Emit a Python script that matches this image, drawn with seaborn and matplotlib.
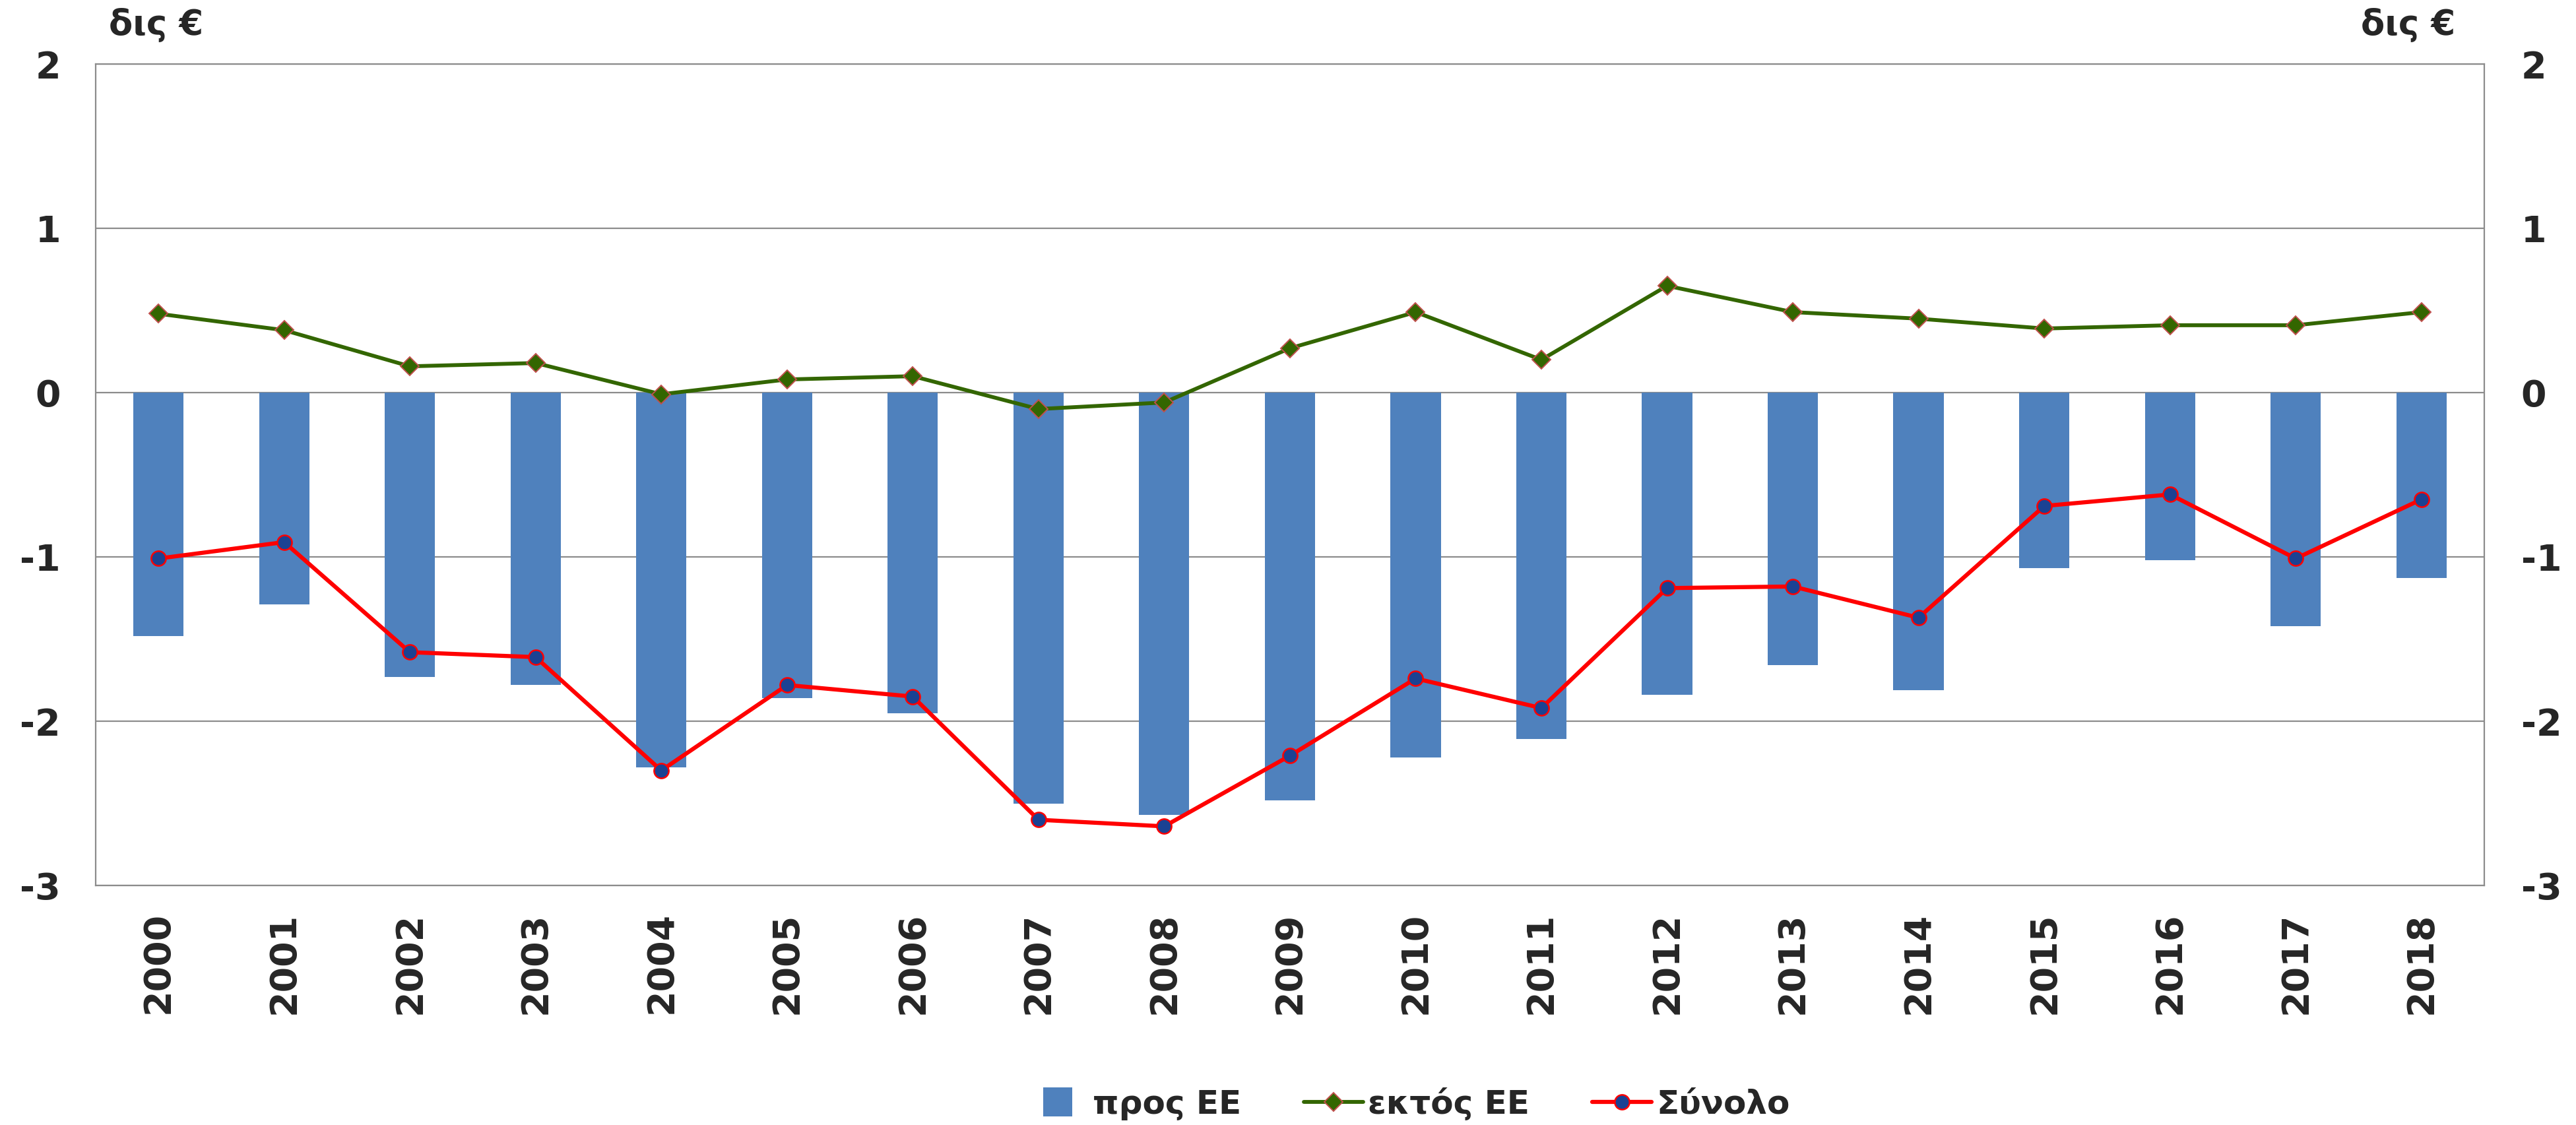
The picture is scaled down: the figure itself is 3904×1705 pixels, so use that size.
import numpy as np
import pandas as pd
import matplotlib
matplotlib.use("Agg")
import matplotlib.pyplot as plt
from matplotlib.lines import Line2D
import seaborn as sns

# Data (δις €)
years = [str(y) for y in range(2000, 2019)]
pros_ee = [-1.48, -1.29, -1.73, -1.78, -2.28, -1.86, -1.95, -2.50, -2.57, -2.48,
           -2.22, -2.11, -1.84, -1.66, -1.81, -1.07, -1.02, -1.42, -1.13]
ektos_ee = [0.48, 0.38, 0.16, 0.18, -0.01, 0.08, 0.10, -0.10, -0.06, 0.27,
            0.49, 0.20, 0.65, 0.49, 0.45, 0.39, 0.41, 0.41, 0.49]
synolo = [-1.01, -0.91, -1.58, -1.61, -2.30, -1.78, -1.85, -2.60, -2.64, -2.21,
          -1.74, -1.92, -1.19, -1.18, -1.37, -0.69, -0.62, -1.01, -0.65]
yticks = [2, 1, 0, -1, -2, -3]
ytick_labels = ["2", "1", "0", "-1", "-2", "-3"]

df = pd.DataFrame({"year": years, "pros": pros_ee, "ektos": ektos_ee, "synolo": synolo})

sns.set_style("white")
plt.rcParams["font.family"] = ["DejaVu Sans"]
plt.rcParams["font.weight"] = "bold"

fig = plt.figure(figsize=(39.04, 17.05), dpi=100)
ax = fig.add_axes([0.0371, 0.2129, 0.9273, 0.7302])

grid_col = "#8c8c8c"
bar_col = "#4f81bd"

sns.barplot(data=df, x="year", y="pros", color=bar_col, saturation=1, width=0.4,
            linewidth=0, ax=ax, label="προς ΕΕ", zorder=2)

pos = np.arange(len(years))
sns.lineplot(x=pos, y=df["ektos"], ax=ax, color="#336600", linewidth=4.2,
             marker="D", markersize=14, markerfacecolor="#336600",
             markeredgecolor="#c0504d", markeredgewidth=1.4,
             label="εκτός ΕΕ", zorder=3)
sns.lineplot(x=pos, y=df["synolo"], ax=ax, color="#ff0000", linewidth=4.5,
             marker="o", markersize=16, markerfacecolor="#1b4293",
             markeredgecolor="#ff0000", markeredgewidth=1.8,
             label="Σύνολο", zorder=4)

ax.set_xlim(-0.5, len(years) - 0.5)
ax.set_ylim(-3, 2)
ax.set_yticks(yticks)
ax.set_yticklabels(ytick_labels)
ax.yaxis.grid(True, color=grid_col, linewidth=1.6, zorder=0)
ax.set_axisbelow(True)
ax.set_xlabel("")
ax.set_ylabel("")
for s in ax.spines.values():
    s.set_visible(True)
    s.set_color(grid_col)
    s.set_linewidth(1.6)

ax.tick_params(axis="y", length=0, pad=38, labelsize=40)
ax.tick_params(axis="x", length=0, pad=29, labelsize=40, rotation=90)
for lab in ax.get_xticklabels() + ax.get_yticklabels():
    lab.set_fontweight("bold")

ax2 = ax.twinx()
ax2.set_ylim(ax.get_ylim())
ax2.set_yticks(yticks)
ax2.set_yticklabels(ytick_labels, fontweight="bold")
ax2.tick_params(axis="y", length=0, pad=40, labelsize=40)
for s in ax2.spines.values():
    s.set_visible(False)

fig.text(165 / 3904, 1 - 12 / 1705, "δις €", ha="left", va="top", fontsize=38, fontweight="bold")
fig.text(3721 / 3904, 1 - 12 / 1705, "δις €", ha="right", va="top", fontsize=38, fontweight="bold")

# legend: square swatch for the bars, like the original
handles, labels = ax.get_legend_handles_labels()
if ax.legend_:
    ax.legend_.remove()
lookup = dict(zip(labels, handles))
bar_handle = Line2D([], [], linestyle="none", marker="s", markersize=32,
                    markerfacecolor=bar_col, markeredgewidth=0)
leg_handles = [bar_handle, lookup["εκτός ΕΕ"], lookup["Σύνολο"]]
leg_labels = ["προς ΕΕ", "εκτός ΕΕ", "Σύνολο"]
fig.legend(leg_handles, leg_labels, loc="center",
           bbox_to_anchor=(0.547, 0.019), ncol=3, frameon=False,
           handlelength=1.8, handletextpad=0.15, columnspacing=1.9,
           prop={"weight": "bold", "size": 36})

fig.savefig("out.png", dpi=100, facecolor="white")
